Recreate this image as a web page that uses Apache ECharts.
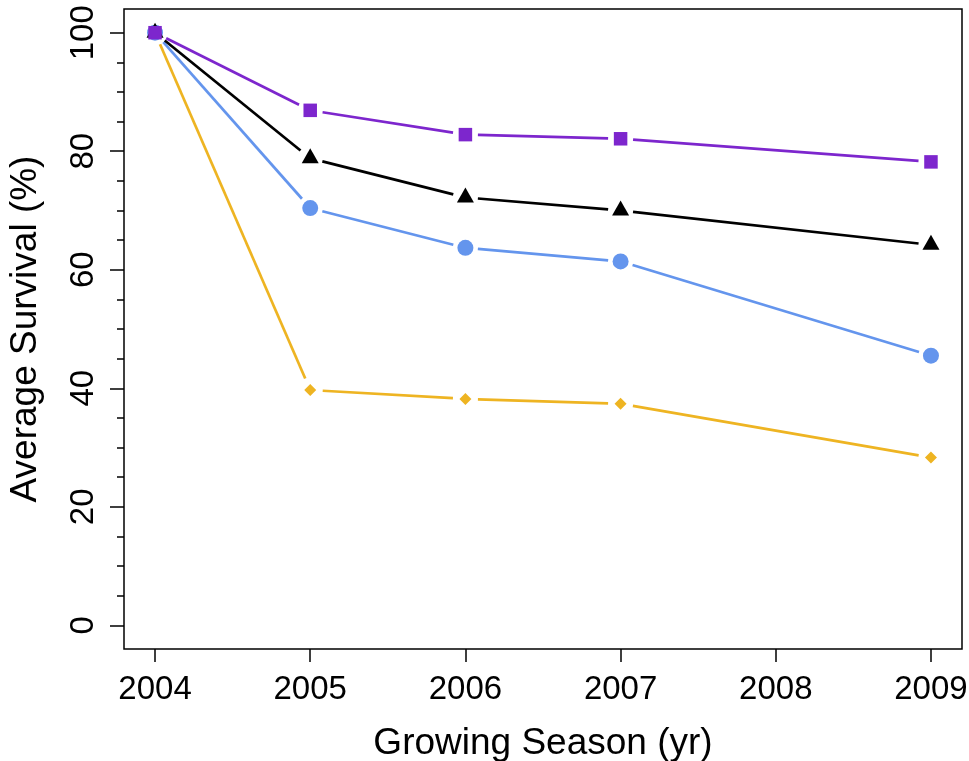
<!DOCTYPE html>
<html>
<head>
<meta charset="utf-8">
<title>Average Survival by Growing Season</title>
<script src="https://cdn.jsdelivr.net/npm/echarts@6/dist/echarts.min.js"></script>
<style>
  html, body { margin: 0; padding: 0; background: #fff; }
  #chart { width: 969px; height: 761px; }
</style>
</head>
<body>
<div id="chart"></div>
<script>
// Growing seasons (x values) and survival percentages per treatment
const seasons = [2004, 2005, 2006, 2007, 2009];
const purpleSquares = [100, 86.9, 82.8, 82.1, 78.2];
const blackTriangles = [100, 78.8, 72.2, 70.0, 64.2];
const blueCircles = [100, 70.4, 63.7, 61.4, 45.5];
const yellowDiamonds = [100, 39.7, 38.2, 37.4, 28.3];

// Axis ticks
const xTicks = [2004, 2005, 2006, 2007, 2008, 2009];
const yMajorTicks = [0, 20, 40, 60, 80, 100];
const yMinorTicks = [5, 10, 15, 25, 30, 35, 45, 50, 55, 65, 70, 75, 85, 90, 95];

const FONT = "'Liberation Sans', Arial, Helvetica, sans-serif";
const GAP = 12.5;        // space left between a line end and its marker
const LINE_W = 2.7;

const chart = echarts.init(document.getElementById('chart'), null, { renderer: 'canvas' });

function pairs(ys) {
  return seasons.map((x, i) => [x, ys[i]]);
}

function segments(ys) {
  const out = [];
  for (let i = 0; i < seasons.length - 1; i++) {
    out.push([seasons[i], ys[i], seasons[i + 1], ys[i + 1]]);
  }
  return out;
}

// Line segments that stop short of each marker
function gappedLine(ys, color) {
  return {
    type: 'custom',
    z: 2,
    silent: true,
    encode: { x: [0, 2], y: [1, 3] },
    data: segments(ys),
    renderItem: function (params, api) {
      const a = api.coord([api.value(0), api.value(1)]);
      const b = api.coord([api.value(2), api.value(3)]);
      const dx = b[0] - a[0], dy = b[1] - a[1];
      const len = Math.hypot(dx, dy);
      const ux = dx / len, uy = dy / len;
      return {
        type: 'line',
        shape: {
          x1: a[0] + ux * GAP, y1: a[1] + uy * GAP,
          x2: b[0] - ux * GAP, y2: b[1] - uy * GAP
        },
        style: { stroke: color, lineWidth: LINE_W, lineCap: 'butt' }
      };
    }
  };
}

function markers(ys, color, symbol, size, offset) {
  return {
    type: 'scatter',
    z: 3,
    silent: true,
    symbol: symbol,
    symbolSize: size,
    symbolOffset: offset || [0, 0],
    itemStyle: { color: color, opacity: 1 },
    data: pairs(ys)
  };
}

const COL_PURPLE = '#7D26CD';
const COL_BLACK = '#000000';
const COL_BLUE = '#6495ED';
const COL_YELLOW = '#EEB422';

const option = {
  animation: false,
  backgroundColor: '#ffffff',
  textStyle: { fontFamily: FONT },
  grid: {
    left: 124, right: 7, top: 9, bottom: 112,
    outerBoundsMode: 'none',
    containLabel: false,
    show: true,
    borderColor: '#000',
    borderWidth: 1.5,
    backgroundColor: 'transparent'
  },
  xAxis: {
    type: 'value',
    min: 2003.8,
    max: 2009.2,
    name: 'Growing Season (yr)',
    nameLocation: 'middle',
    nameGap: 76,
    nameTextStyle: { fontSize: 37, color: '#000', fontFamily: FONT },
    axisLine: { show: false, onZero: false },
    splitLine: { show: false },
    axisTick: {
      show: true, length: 13, customValues: xTicks,
      lineStyle: { color: '#000', width: 1.5 }
    },
    axisLabel: {
      customValues: xTicks,
      fontSize: 33, color: '#000', fontFamily: FONT, margin: 24,
      formatter: v => String(v)
    }
  },
  yAxis: [
    {
      type: 'value',
      min: -4,
      max: 104,
      name: 'Average Survival (%)',
      nameLocation: 'middle',
      nameGap: 80,
      nameTextStyle: { fontSize: 37, color: '#000', fontFamily: FONT },
      axisLine: { show: false, onZero: false },
      splitLine: { show: false },
      axisTick: {
        show: true, length: 14, customValues: yMajorTicks,
        lineStyle: { color: '#000', width: 1.5 }
      },
      axisLabel: {
        customValues: yMajorTicks,
        rotate: 90,
        fontSize: 33, color: '#000', fontFamily: FONT, margin: 24,
        formatter: v => String(v)
      }
    },
    {
      // minor ticks every 5 %
      type: 'value',
      position: 'left',
      min: -4,
      max: 104,
      axisLine: { show: false, onZero: false },
      splitLine: { show: false },
      axisLabel: { show: false },
      axisTick: {
        show: true, length: 7, customValues: yMinorTicks,
        lineStyle: { color: '#000', width: 1.5 }
      }
    }
  ],
  series: [
    gappedLine(yellowDiamonds, COL_YELLOW),
    gappedLine(blueCircles, COL_BLUE),
    gappedLine(blackTriangles, COL_BLACK),
    gappedLine(purpleSquares, COL_PURPLE),
    markers(yellowDiamonds, COL_YELLOW, 'diamond', 12),
    markers(blueCircles, COL_BLUE, 'circle', 16),
    markers(blackTriangles, COL_BLACK, 'triangle', [17, 15], [0, -2.5]),
    markers(purpleSquares, COL_PURPLE, 'rect', 13.5)
  ]
};

chart.setOption(option);
</script>
</body>
</html>
